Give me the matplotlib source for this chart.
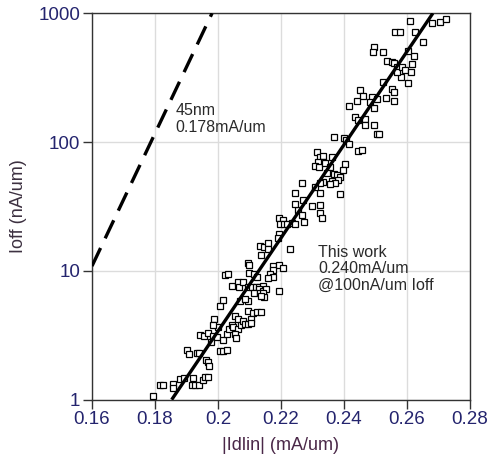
import matplotlib
matplotlib.use('Agg')
import matplotlib.pyplot as plt

plt.rcParams['font.family'] = ['Liberation Sans', 'DejaVu Sans']

# measured devices: |Idlin| (mA/um) vs Ioff (nA/um)
idlin = [
    0.1795, 0.1817, 0.1826, 0.1858, 0.1858, 0.1879, 0.1893, 0.1922, 0.1917, 0.1927,
    0.1940, 0.1951, 0.1959, 0.1969, 0.1901, 0.1909, 0.1932, 0.1941, 0.1962, 0.1969,
    0.1972, 0.2006, 0.2015, 0.2028, 0.1977, 0.1943, 0.1957, 0.1969, 0.1985, 0.1987,
    0.1996, 0.2001, 0.1985, 0.2006, 0.2017, 0.2015, 0.2028, 0.2036, 0.2043, 0.2049,
    0.2054, 0.2064, 0.2065, 0.2054, 0.2057, 0.2073, 0.2080, 0.2086, 0.2070, 0.2096,
    0.2094, 0.2112, 0.2125, 0.2137, 0.2096, 0.2105, 0.2105, 0.2021, 0.2032, 0.2043,
    0.2063, 0.2068, 0.2078, 0.2086, 0.2094, 0.2099, 0.2098, 0.2114, 0.2123, 0.2096,
    0.2108, 0.2121, 0.2129, 0.2144, 0.2131, 0.2144, 0.2152, 0.2115, 0.2133, 0.2142,
    0.2146, 0.2138, 0.2195, 0.2176, 0.2193, 0.2205, 0.2176, 0.2165, 0.2176, 0.2160,
    0.2135, 0.2132, 0.2146, 0.2160, 0.2160, 0.2230, 0.2195, 0.2192, 0.2195, 0.2206,
    0.2197, 0.2210, 0.2219, 0.2234, 0.2243, 0.2254, 0.2266, 0.2273, 0.2244, 0.2270,
    0.2298, 0.2324, 0.2325, 0.2329, 0.2243, 0.2266, 0.2324, 0.2387, 0.2313, 0.2324,
    0.2332, 0.2361, 0.2334, 0.2318, 0.2308, 0.2322, 0.2340, 0.2356, 0.2402, 0.2397,
    0.2347, 0.2367, 0.2377, 0.2387, 0.2381, 0.2361, 0.2371, 0.2356, 0.2334, 0.2324,
    0.2308, 0.2446, 0.2457, 0.2368, 0.2401, 0.2405, 0.2416, 0.2435, 0.2445, 0.2468,
    0.2468, 0.2496, 0.2504, 0.2512, 0.2451, 0.2460, 0.2440, 0.2415, 0.2495, 0.2488,
    0.2484, 0.2504, 0.2533, 0.2551, 0.2559, 0.2560, 0.2523, 0.2581, 0.2602, 0.2537,
    0.2551, 0.2559, 0.2567, 0.2568, 0.2583, 0.2595, 0.2613, 0.2615, 0.2621, 0.2604,
    0.2494, 0.2493, 0.2525, 0.2563, 0.2579, 0.2625, 0.2652, 0.2610, 0.2678, 0.2705,
    0.2723,
]
ioff = [
    1.06, 1.29, 1.29, 1.32, 1.24, 1.44, 1.47, 1.47, 1.31, 1.31,
    1.31, 1.42, 1.50, 1.50, 2.43, 2.28, 2.30, 2.30, 2.04, 1.95,
    1.83, 2.39, 2.39, 2.43, 2.79, 3.18, 3.14, 3.27, 3.10, 4.26,
    3.08, 3.64, 3.80, 5.29, 5.94, 2.89, 3.25, 3.54, 3.80, 3.69,
    4.47, 4.21, 3.51, 3.24, 3.01, 3.77, 4.06, 3.87, 5.87, 5.87,
    4.88, 4.67, 4.77, 4.80, 3.87, 4.26, 3.92, 9.34, 9.46, 7.57,
    8.27, 7.54, 8.27, 6.02, 11.5, 11.2, 9.63, 9.46, 8.92, 7.46,
    7.46, 7.43, 7.54, 7.57, 7.17, 6.98, 7.24, 6.77, 6.77, 6.68,
    6.24, 6.33, 6.92, 11.0, 11.1, 10.5, 10.2, 9.38, 8.97, 8.73,
    13.3, 15.6, 15.4, 16.6, 14.8, 14.9, 19.5, 17.9, 25.6, 24.8,
    23.0, 23.1, 23.1, 23.4, 23.1, 29.7, 27.2, 24.0, 32.8, 35.5,
    31.9, 32.5, 28.0, 25.6, 40.0, 48.4, 40.0, 39.5, 84.2, 77.0,
    78.0, 76.2, 70.5, 69.5, 64.7, 64.4, 68.8, 64.4, 68.0, 61.1,
    57.1, 56.5, 55.2, 53.1, 50.8, 50.3, 47.9, 46.9, 49.3, 48.4,
    45.1, 85.3, 87.1, 109, 107, 103, 97.2, 157, 148, 152,
    136, 135, 115, 115, 254, 226, 208, 190, 183, 223,
    205, 215, 219, 257, 246, 207, 294, 320, 289, 426,
    421, 411, 383, 352, 385, 361, 352, 406, 464, 512,
    548, 505, 498, 712, 722, 720, 598, 876, 836, 860,
    898,
]

# fit through this work, and the 45nm reference trend
fit_x = [0.1853, 0.2682]
fit_y = [1, 1000]
ref_x = [0.16, 0.1981]
ref_y = [10.9, 1000]

xticks = [0.16, 0.18, 0.2, 0.22, 0.24, 0.26, 0.28]
xtick_labels = ['0.16', '0.18', '0.2', '0.22', '0.24', '0.26', '0.28']
yticks = [1, 10, 100, 1000]
ytick_labels = ['1', '10', '100', '1000']

fig = plt.figure(figsize=(5, 4.68), dpi=100)
ax = fig.add_axes([0.184, 0.146, 0.756, 0.8256])

ax.plot(idlin, ioff, linestyle='none', marker='s', markersize=4.6,
        markerfacecolor='white', markeredgecolor='black', markeredgewidth=0.9,
        zorder=3)
ax.plot(fit_x, fit_y, color='black', linewidth=2.4, solid_capstyle='butt', zorder=4)
ax.plot(ref_x, ref_y, color='black', linewidth=2.4, dashes=(6, 3.2),
        dash_capstyle='butt', zorder=4)

ax.set_yscale('log')
ax.set_xlim(0.16, 0.28)
ax.set_ylim(1, 1000)
ax.set_xticks(xticks)
ax.set_xticklabels(xtick_labels)
ax.set_yticks(yticks)
ax.set_yticklabels(ytick_labels)
ax.minorticks_off()

ax.grid(True, color='#dcdcdc', linewidth=1.0, zorder=0)
ax.set_axisbelow(True)
for s in ax.spines.values():
    s.set_color('#333333')
    s.set_linewidth(1.0)

ax.tick_params(direction='out', length=6.5, width=1.0, color='#333333',
               labelsize=13.5, labelcolor='#24246e', pad=2)

ax.set_xlabel('|Idlin| (mA/um)', fontsize=13, color='#4a2848', labelpad=6)
ax.set_ylabel('Ioff (nA/um)', fontsize=13, color='#3c3040', labelpad=8)

ax.text(0.1864, 200, '45nm\n0.178mA/um', fontsize=11.5, color='#2a2a2a',
        va='top', ha='left', linespacing=1.15)
ax.text(0.2318, 16, 'This work\n0.240mA/um\n@100nA/um Ioff', fontsize=11.5,
        color='#2a2a2a', va='top', ha='left', linespacing=1.15)

fig.savefig('out.png', dpi=100)
